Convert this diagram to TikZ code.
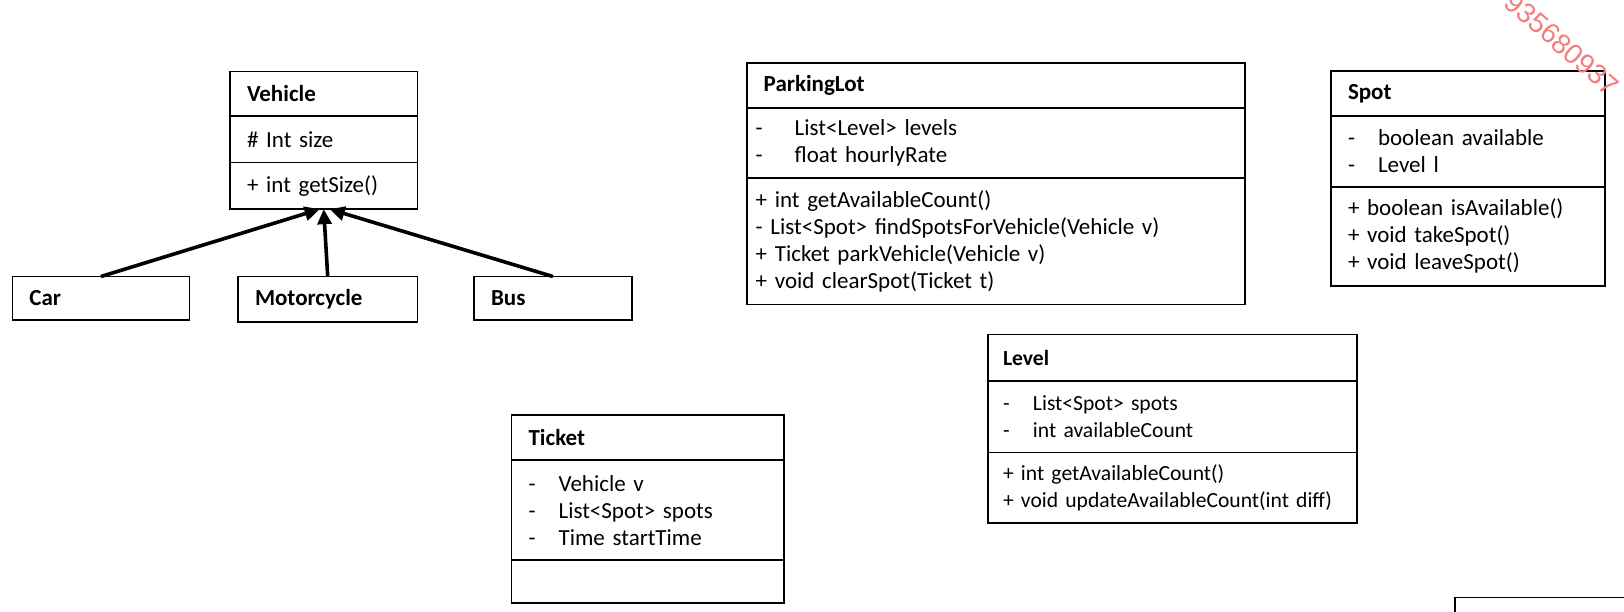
\documentclass[tikz,border=0pt]{standalone}
\usepackage{fontspec}
\setmainfont{Carlito}
\newfontfamily\markfont{Liberation Sans}
\usetikzlibrary{positioning,arrows.meta}
\definecolor{markred}{RGB}{242,125,125}
\newcommand{\attr}[2][30pt]{\makebox[#1][l]{-}#2}

\begin{document}
\begin{tikzpicture}[x=1pt, y=-1pt, font=\fontsize{23}{27}\selectfont,
  cell/.style={draw, line width=1.7pt, outer sep=0pt, inner xsep=17pt, inner ysep=2pt, align=left},
  smallcell/.style={cell, font=\fontsize{21.6}{27}\selectfont},
  inherit/.style={line width=3.6pt, -{Triangle[length=15pt,width=14pt]}}]
  \useasboundingbox (0,0) rectangle (1624,612);
  \clip (0,0) rectangle (1624,612);

  \node [cell, text width=153.4pt, minimum height=44.5pt, anchor=north west] (vehicle) at (230,71.5) {\textbf{Vehicle}};
  \node [cell, text width=153.4pt, minimum height=46.6pt, below=0pt of vehicle] (vehicle-attr) {\# Int size};
  \node [cell, text width=153.4pt, minimum height=46.6pt, below=0pt of vehicle-attr] (vehicle-ops) {+ int getSize()};

  \node [cell, text width=143pt, minimum height=43.5pt, anchor=north west] (car) at (12.4,276.5) {\textbf{Car}};
  \node [cell, text width=145.4pt, minimum height=45.5pt, anchor=north west] (motorcycle) at (238,276.5) {\textbf{Motorcycle}};
  \node [cell, text width=123.8pt, minimum height=43.5pt, anchor=north west] (bus) at (474,276.5) {\textbf{Bus}};
  \draw [inherit] (car.north) -- ([xshift=-4pt]vehicle-ops.south);
  \draw [inherit] (motorcycle.north) -- (vehicle-ops.south);
  \draw [inherit] (bus.north) -- ([xshift=6pt]vehicle-ops.south);

  \node [cell, text width=464.3pt, minimum height=44.5pt, anchor=north west] (lot) at (746.7,63.2) {\textbf{ParkingLot}};
  \node [cell, inner xsep=9pt, text width=480.3pt, minimum height=70.3pt, below=0pt of lot] (lot-attr)
    {\attr[39pt]{List<Level> levels}\\ \attr[39pt]{float hourlyRate}};
  \node [cell, inner xsep=9pt, text width=480.3pt, minimum height=126.5pt, below=0pt of lot-attr] (lot-ops)
    {+ int getAvailableCount()\\ - List<Spot> findSpotsForVehicle(Vehicle v)\\ + Ticket parkVehicle(Vehicle v)\\ + void clearSpot(Ticket t)};

  \node [cell, text width=240pt, minimum height=44.7pt, anchor=north west] (spot) at (1331,71) {\textbf{Spot}};
  \node [cell, text width=240pt, minimum height=71.3pt, below=0pt of spot] (spot-attr)
    {\attr{boolean available}\\ \attr{Level l}};
  \node [cell, text width=240pt, minimum height=98.7pt, below=0pt of spot-attr] (spot-ops)
    {+ boolean isAvailable()\\ + void takeSpot()\\ + void leaveSpot()};

  \node [smallcell, inner xsep=15pt, text width=338.8pt, minimum height=46.5pt, anchor=north west] (level) at (988,334.5) {\textbf{Level}};
  \node [smallcell, inner xsep=15pt, text width=338.8pt, minimum height=71.6pt, below=0pt of level] (level-attr)
    {\attr{List<Spot> spots}\\ \attr{int availableCount}};
  \node [smallcell, inner xsep=15pt, text width=338.8pt, minimum height=70.4pt, below=0pt of level-attr] (level-ops)
    {+ int getAvailableCount()\\ + void updateAvailableCount(int diff)};

  \node [cell, text width=238.4pt, minimum height=44.6pt, anchor=north west] (ticket) at (511.6,415.3) {\textbf{Ticket}};
  \node [cell, text width=238.4pt, minimum height=100.4pt, below=0pt of ticket] (ticket-attr)
    {\attr{Vehicle v}\\ \attr{List<Spot> spots}\\ \attr{Time startTime}};
  \node [cell, text width=238.4pt, minimum height=42.5pt, below=0pt of ticket-attr] (ticket-ops) {};

  \node [cell, minimum width=300pt, minimum height=100pt, anchor=north west] (next) at (1455,597.6) {};

  \node [font=\markfont\fontsize{28}{28}\selectfont, text=markred, rotate=-41] (mark) at (1562,44) {935680937};
\end{tikzpicture}
\end{document}
